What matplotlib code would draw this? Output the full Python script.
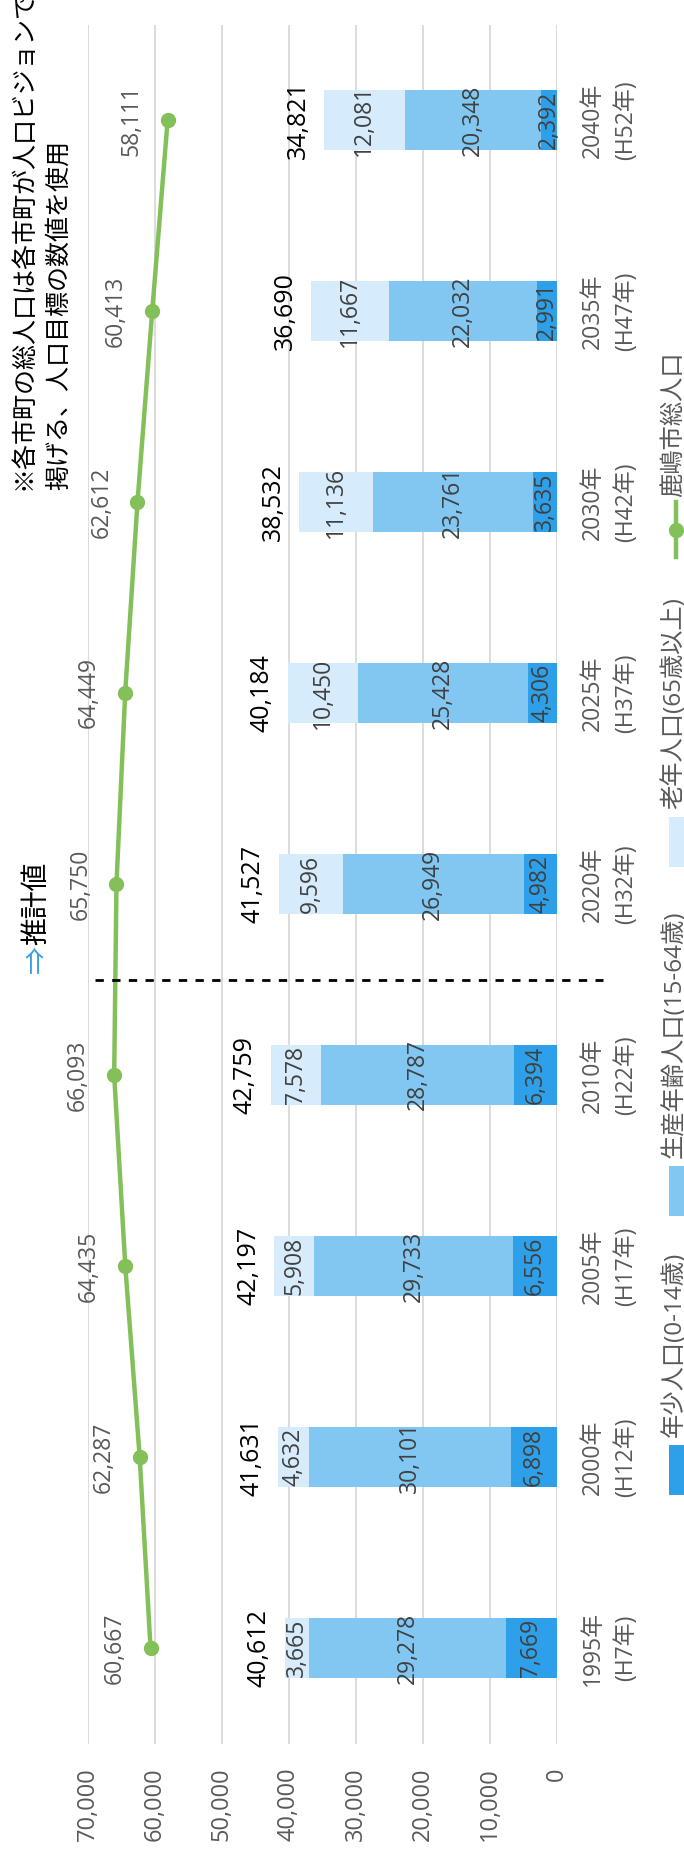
import numpy as np
import matplotlib
matplotlib.use('Agg')
import matplotlib.pyplot as plt
from matplotlib.lines import Line2D
from matplotlib.patches import Rectangle

# データ（各年の人口）
years = ['1995年\n(H7年)', '2000年\n(H12年)', '2005年\n(H17年)', '2010年\n(H22年)',
         '2020年\n(H32年)', '2025年\n(H37年)', '2030年\n(H42年)', '2035年\n(H47年)',
         '2040年\n(H52年)']
young = [7669, 6898, 6556, 6394, 4982, 4306, 3635, 2991, 2392]
working = [29278, 30101, 29733, 28787, 26949, 25428, 23761, 22032, 20348]
old = [3665, 4632, 5908, 7578, 9596, 10450, 11136, 11667, 12081]
city_total = [60667, 62287, 64435, 66093, 65750, 64449, 62612, 60413, 58111]
names = ['年少人口(0-14歳)', '生産年齢人口(15-64歳)', '老年人口(65歳以上)', '鹿嶋市総人口']
note = '※各市町の総人口は各市町が人口ビジョンで\n掲げる、人口目標の数値を使用'

plt.rcParams['font.family'] = ['Open Sans', 'Noto Sans CJK JP']

W, H = 684, 1854
fig = plt.figure(figsize=(W/100, H/100), dpi=100)

def fx(x):
    return x / W

def fy(y):
    return 1 - y / H

c_young, c_work, c_old = '#2ea0e9', '#82c7f2', '#d6ebfb'
green = '#84c05a'
gray = '#595959'

# グラフ全体を90度回転した向きで描く
ax = fig.add_axes([fx(88), fy(1743.5), (557 - 88)/W, (1743.5 - 24.5)/H])
ypos = np.arange(len(years))
ax.set_ylim(-0.5, len(years) - 0.5)
ax.set_xlim(70000, 0)

bh = 0.314
left = np.zeros(len(years))
for vals, col in [(young, c_young), (working, c_work), (old, c_old)]:
    v = np.array(vals)
    ax.barh(ypos, v, left=left, height=bh, color=col, lw=0, zorder=2)
    for i in range(len(v)):
        ax.text(left[i] + v[i]/2, ypos[i], f'{v[i]:,}', rotation=90, ha='center',
                va='center', fontsize=16.5, color='#404040', zorder=4)
    left += v

for i, tot in enumerate(left):
    ax.annotate(f'{int(tot):,}', xy=(tot, i), xytext=(-9.5, 0), textcoords='offset points',
                rotation=90, ha='right', va='center', fontsize=18, color='black')

ax.plot(city_total, ypos, color=green, lw=3.2, marker='o', ms=10, zorder=3)
for i, v in enumerate(city_total):
    ax.annotate(f'{v:,}', xy=(v, i), xytext=(-26, 0), textcoords='offset points',
                rotation=90, ha='center', va='center', fontsize=16.5, color=gray)

for i, lab in enumerate(years):
    ax.annotate(lab, xy=(0, i), xytext=(17, 0), textcoords='offset points', rotation=90,
                ha='left', va='center', multialignment='center', linespacing=1.55,
                fontsize=16.5, color=gray, annotation_clip=False)

ticks = list(range(0, 70001, 10000))
ax.set_xticks(ticks)
ax.set_xticklabels([f'{t:,}' for t in ticks])
ax.set_yticks([])
ax.tick_params(axis='x', length=0, pad=17, labelsize=17, labelcolor=gray, labelrotation=90)
ax.grid(axis='x', color='#d9d9d9', lw=1.3)
ax.set_axisbelow(True)
for s in ax.spines.values():
    s.set_visible(False)

# 推計値の区切り線
fig.add_artist(Line2D([fx(95), fx(603)], [fy(980), fy(980)], color='black', lw=2,
                      linestyle=(0, (3, 3))))
fig.text(fx(37), fy(945), '推計値', rotation=90, ha='center', va='bottom',
         fontsize=20, color='black')
fig.text(fx(37), fy(945), '⇒', rotation=90, ha='center', va='top',
         fontsize=20, color='#3aa0e0')

# 注記
fig.text(fx(12), fy(490), note, rotation=90, ha='left', va='bottom', multialignment='left',
         linespacing=1.55, fontsize=18, color='black')

# 凡例
for col, y0, y1, name in [(c_young, 1445, 1495, names[0]), (c_work, 1166, 1216, names[1]),
                          (c_old, 817, 867, names[2])]:
    fig.add_artist(Rectangle((fx(669), fy(y1)), 16/W, (y1 - y0)/H,
                             transform=fig.transFigure, color=col, lw=0))
    fig.text(fx(674), fy(y0 - 8), name, rotation=90, ha='center', va='bottom',
             fontsize=17.5, color=gray)
fig.add_artist(Line2D([fx(676), fx(676)], [fy(502), fy(557)], color=green, lw=3.2))
fig.add_artist(Line2D([fx(676)], [fy(530)], color=green, marker='o', ms=10))
fig.text(fx(674), fy(497), names[3], rotation=90, ha='center', va='bottom',
         fontsize=17.5, color=gray)

fig.savefig('out.png', dpi=100)
